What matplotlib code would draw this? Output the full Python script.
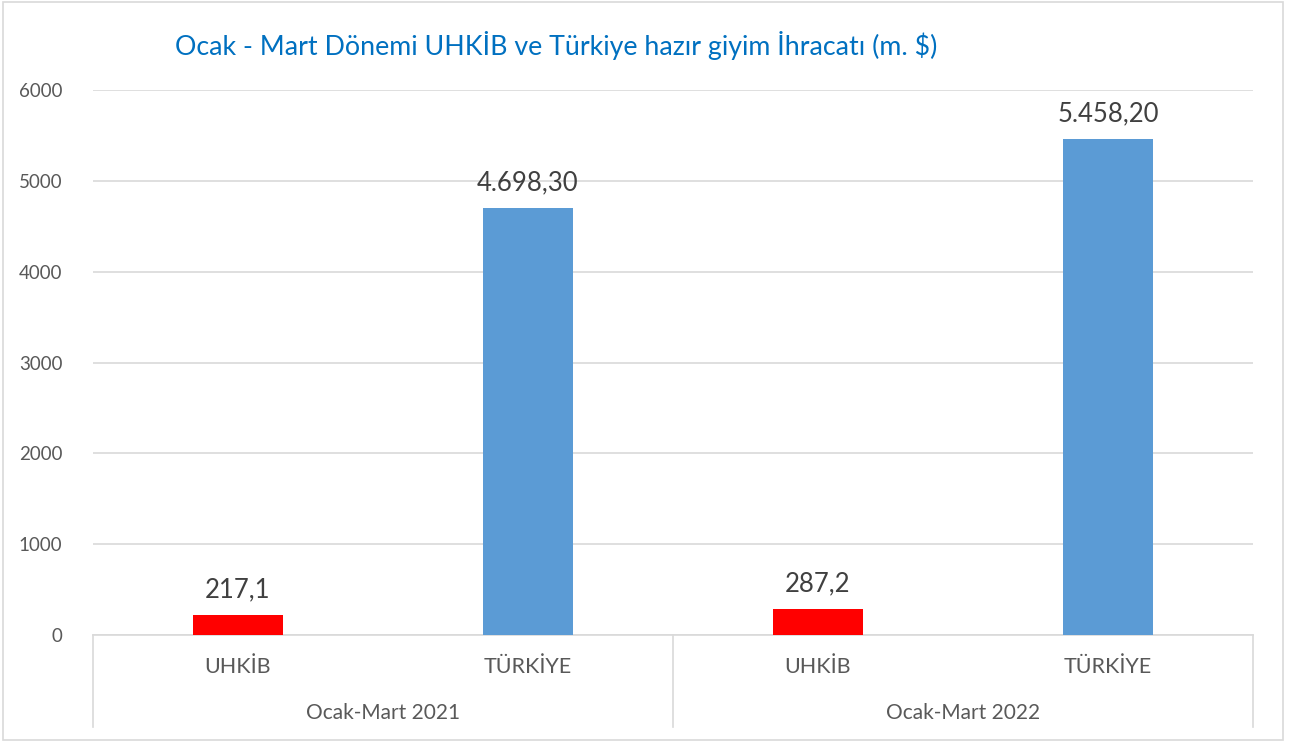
import matplotlib.pyplot as plt
import matplotlib.transforms as mtransforms
from matplotlib.lines import Line2D
from matplotlib.patches import Rectangle

plt.rcParams["font.family"] = ["Lato", "DejaVu Sans"]

categories = ["UHKİB", "TÜRKİYE", "UHKİB", "TÜRKİYE"]
periods = ["Ocak-Mart 2021", "Ocak-Mart 2022"]
values = [217.1, 4698.3, 287.2, 5458.2]
value_labels = ["217,1", "4.698,30", "287,2", "5.458,20"]
bar_colors = ["#FF0000", "#5B9BD5", "#FF0000", "#5B9BD5"]
title = "Ocak - Mart Dönemi UHKİB ve Türkiye hazır giyim İhracatı (m. $)"

W, H = 1296, 742
fig = plt.figure(figsize=(W / 100, H / 100), dpi=100)
fig.patch.set_facecolor("white")

# outer chart border
fig.patches.append(Rectangle((3 / W, 2 / H), 1280 / W, 738 / H, transform=fig.transFigure,
                             fill=False, edgecolor="#D9D9D9", linewidth=1.2))

ax = fig.add_axes([93 / W, (H - 635) / H, 1160 / W, 545 / H])
x = list(range(len(categories)))
ax.bar(x, values, width=0.31, color=bar_colors, zorder=3)
ax.set_xlim(-0.5, len(categories) - 0.5)
ax.set_ylim(0, 6000)
ax.set_yticks(range(0, 6001, 1000))
ax.tick_params(axis="y", length=0, pad=22, labelsize=13.5, labelcolor="#595959")
ax.set_xticks([])
ax.grid(axis="y", color="#D9D9D9", linewidth=1.2, zorder=0)
for side in ("top", "right", "left"):
    ax.spines[side].set_visible(False)
ax.spines["bottom"].set_color("#D9D9D9")
ax.spines["bottom"].set_linewidth(1.2)

for xi, v, lab in zip(x, values, value_labels):
    ax.annotate(lab, (xi, v), xytext=(0, 9), textcoords="offset points",
                ha="center", va="bottom", fontsize=18.5, color="#404040")

# multi-level category axis
trans = mtransforms.blended_transform_factory(ax.transData, fig.transFigure)
for xi, cat in zip(x, categories):
    fig.text(xi, (H - 667) / H, cat, transform=trans, ha="center", va="center",
             fontsize=15.5, color="#595959")
for i, period in enumerate(periods):
    fig.text(2 * i + 0.5, (H - 713) / H, period, transform=trans, ha="center", va="center",
             fontsize=15, color="#595959")
for xs in (-0.5, 1.5, 3.5):
    fig.add_artist(Line2D([xs, xs], [(H - 635) / H, (H - 727) / H], transform=trans,
                          color="#D9D9D9", linewidth=1.2))

fig.text(175 / W, (H - 45) / H, title, ha="left", va="center", fontsize=19.3, color="#0070C0")

fig.savefig("out.png", dpi=100)
